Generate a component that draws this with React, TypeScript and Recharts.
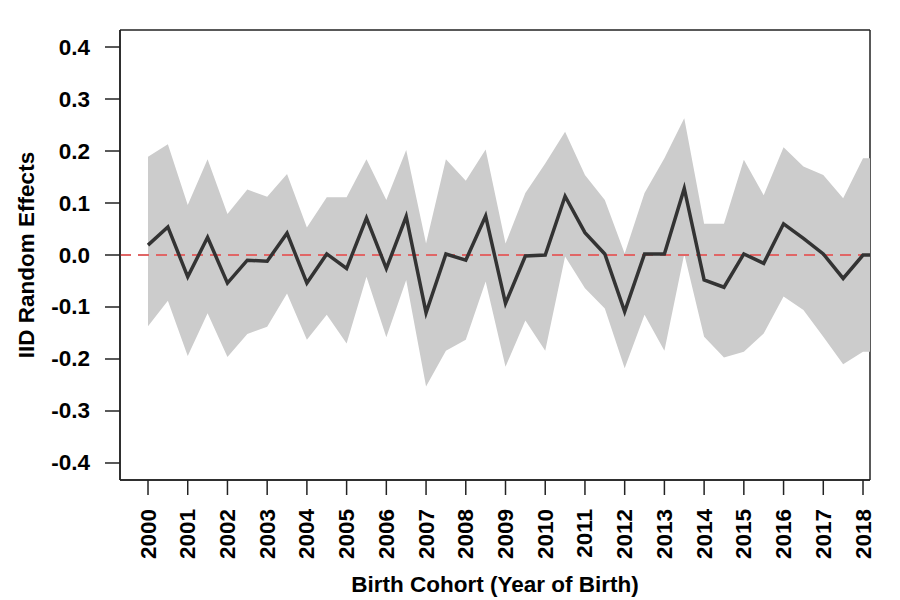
import { ComposedChart, Area, Line, XAxis, YAxis, ReferenceLine, Label, CartesianGrid } from "recharts"

// birth cohorts, half-year steps
const years = [
  2000, 2000.5, 2001, 2001.5, 2002, 2002.5, 2003, 2003.5, 2004, 2004.5,
  2005, 2005.5, 2006, 2006.5, 2007, 2007.5, 2008, 2008.5, 2009, 2009.5,
  2010, 2010.5, 2011, 2011.5, 2012, 2012.5, 2013, 2013.5, 2014, 2014.5,
  2015, 2015.5, 2016, 2016.5, 2017, 2017.5, 2018, 2018.5,
]

const estimate = [
  0.019, 0.054, -0.042, 0.034, -0.054, -0.01, -0.012, 0.042, -0.054, 0.002,
  -0.026, 0.071, -0.026, 0.074, -0.111, 0.002, -0.01, 0.075, -0.093, -0.002,
  0.0, 0.113, 0.043, 0.002, -0.109, 0.002, 0.002, 0.128, -0.048, -0.062,
  0.002, -0.016, 0.06, 0.032, 0.002, -0.045, 0.0, 0.0,
]

const upper = [
  0.189, 0.213, 0.096, 0.184, 0.079, 0.126, 0.112, 0.156, 0.053, 0.111,
  0.111, 0.184, 0.106, 0.202, 0.022, 0.184, 0.143, 0.203, 0.022, 0.119,
  0.176, 0.237, 0.154, 0.106, 0.003, 0.119, 0.186, 0.263, 0.06, 0.06,
  0.183, 0.115, 0.207, 0.17, 0.154, 0.109, 0.186, 0.186,
]

const lower = [
  -0.137, -0.088, -0.194, -0.112, -0.196, -0.152, -0.138, -0.074, -0.163, -0.115,
  -0.17, -0.042, -0.158, -0.048, -0.253, -0.184, -0.163, -0.051, -0.215, -0.126,
  -0.184, -0.003, -0.064, -0.103, -0.218, -0.115, -0.184, 0.002, -0.157, -0.197,
  -0.186, -0.151, -0.08, -0.106, -0.157, -0.21, -0.186, -0.186,
]

const xTicks = [
  2000, 2001, 2002, 2003, 2004, 2005, 2006, 2007, 2008, 2009,
  2010, 2011, 2012, 2013, 2014, 2015, 2016, 2017, 2018,
]
const yTicks = [-0.4, -0.3, -0.2, -0.1, 0, 0.1, 0.2, 0.3, 0.4]

const data = years.map((year, i) => ({
  year,
  est: estimate[i],
  band: [lower[i], upper[i]],
}))

const FONT = "'Liberation Sans', Arial, Helvetica, sans-serif"
const INK = "#222"

const XTick = ({ x, y, payload }: any) => (
  <text
    x={x}
    y={y}
    transform={`rotate(-90 ${x} ${y})`}
    textAnchor="end"
    dominantBaseline="central"
    fontFamily={FONT}
    fontWeight="bold"
    fontSize={22.5}
    fill="#000"
  >
    {payload.value}
  </text>
)

const YTick = ({ x, y, payload }: any) => (
  <text
    x={x}
    y={y}
    textAnchor="end"
    dominantBaseline="central"
    fontFamily={FONT}
    fontWeight="bold"
    fontSize={22.5}
    fill="#000"
  >
    {Number(payload.value).toFixed(1)}
  </text>
)

// box round the plot region, like R's box()
const frameH = ({ offset }: any) => [offset.top, offset.top + offset.height]
const frameV = ({ offset }: any) => [offset.left, offset.left + offset.width]

export default function App() {
  return (
    <div style={{ position: "absolute", left: 0, top: 0, background: "#fff" }}>
      <ComposedChart
        width={900}
        height={600}
        data={data}
        margin={{ top: 30, right: 30, left: 0, bottom: 0 }}
      >
        <XAxis
          dataKey="year"
          type="number"
          domain={[1999.295, 2018.176]}
          allowDataOverflow
          ticks={xTicks}
          interval={0}
          height={120}
          tickSize={15}
          tickMargin={14}
          tick={<XTick />}
          stroke={INK}
          strokeWidth={1.5}
        >
          <Label
            content={({ viewBox }: any) => (
              <text
                x={viewBox.x + viewBox.width / 2}
                y={592}
                textAnchor="middle"
                fontFamily={FONT}
                fontWeight="bold"
                fontSize={22.5}
                fill="#000"
              >
                Birth Cohort (Year of Birth)
              </text>
            )}
          />
        </XAxis>
        <YAxis
          type="number"
          domain={[-0.4327, 0.4327]}
          allowDataOverflow
          ticks={yTicks}
          interval={0}
          width={120}
          tickSize={15}
          tickMargin={15}
          tick={<YTick />}
          stroke={INK}
          strokeWidth={1.5}
        >
          <Label
            content={() => (
              <text
                x={33.5}
                y={255}
                transform="rotate(-90 33.5 255)"
                textAnchor="middle"
                fontFamily={FONT}
                fontWeight="bold"
                fontSize={22.5}
                fill="#000"
              >
                IID Random Effects
              </text>
            )}
          />
        </YAxis>
        <Area
          dataKey="band"
          type="linear"
          fill="#cccccc"
          fillOpacity={1}
          stroke="none"
          isAnimationActive={false}
        />
        <ReferenceLine y={0} stroke="#e06666" strokeWidth={2} strokeDasharray="11 7" />
        <Line
          dataKey="est"
          type="linear"
          stroke="#333333"
          strokeWidth={3.5}
          dot={false}
          activeDot={false}
          isAnimationActive={false}
        />
        <CartesianGrid
          stroke={INK}
          strokeWidth={1.5}
          fill="none"
          horizontalCoordinatesGenerator={frameH}
          verticalCoordinatesGenerator={frameV}
        />
      </ComposedChart>
    </div>
  )
}
